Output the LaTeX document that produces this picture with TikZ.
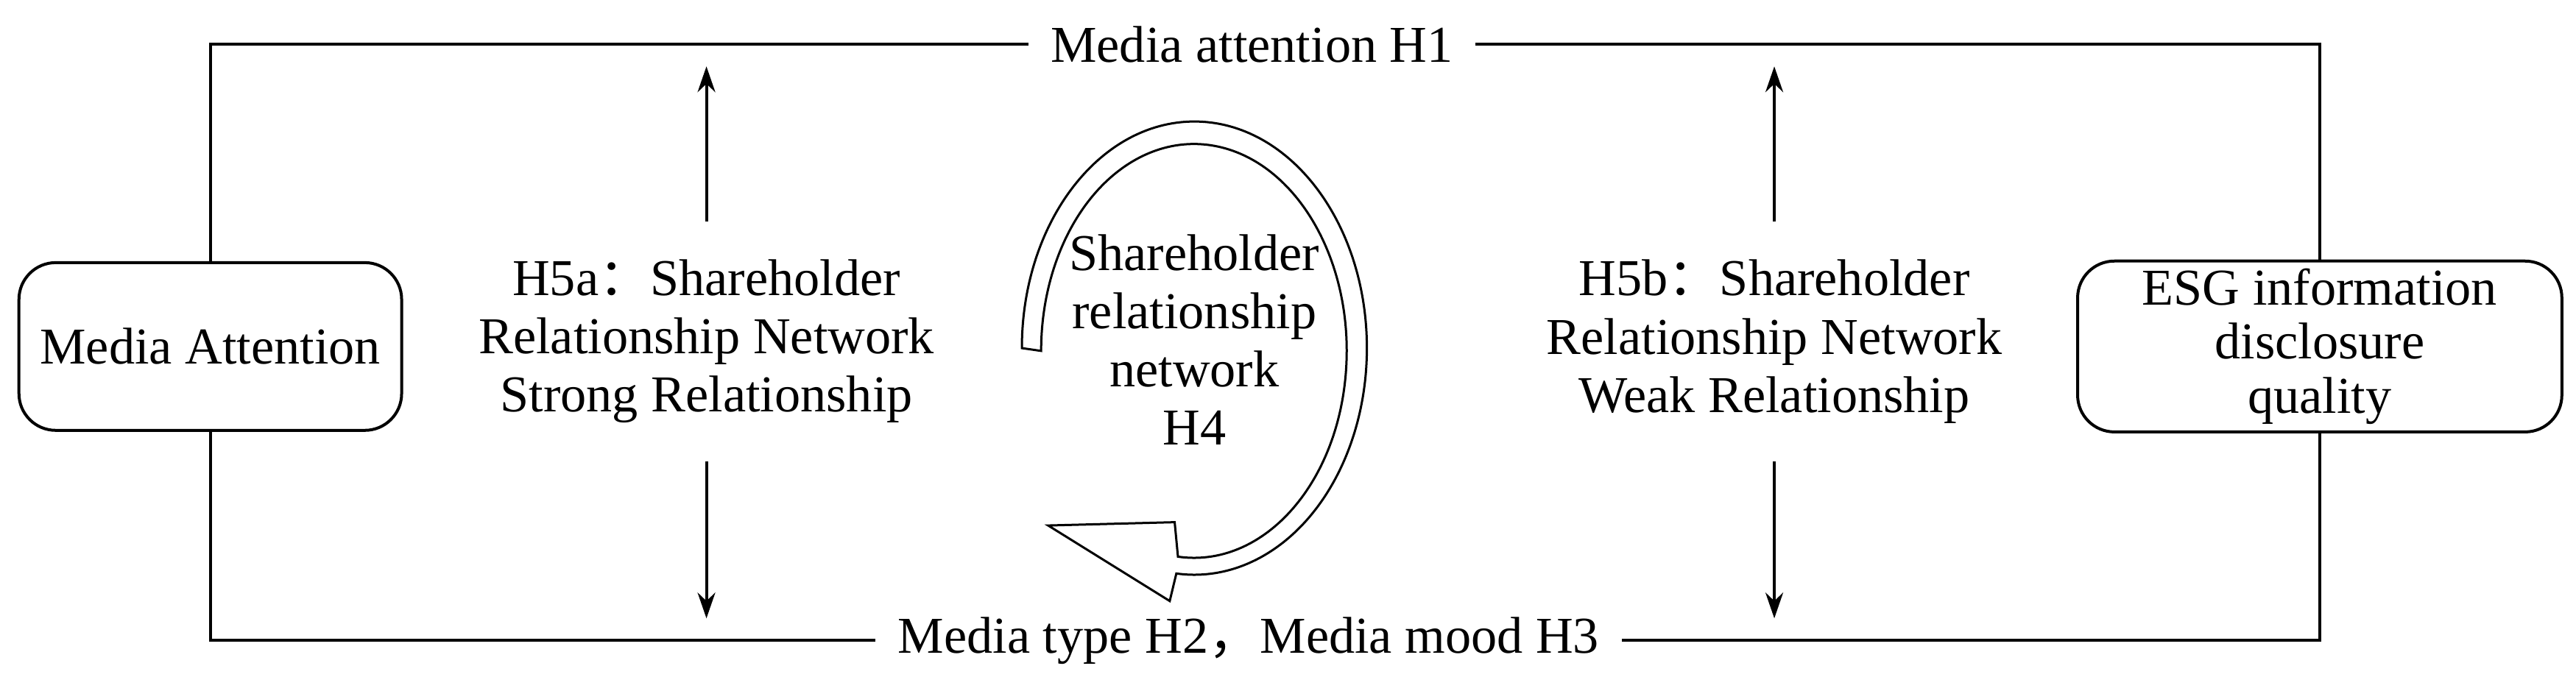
\documentclass[tikz,border=0pt]{standalone}
\usepackage{fontspec}
\setmainfont{Liberation Serif}
\newfontfamily\cjk{Noto Sans CJK SC}
\usetikzlibrary{positioning}
\usetikzlibrary{calc}
\usetikzlibrary{arrows.meta}

\tikzset{
    box/.style={draw, line width=.4mm, rounded corners=5mm, align=center,
        minimum height=2.28cm, inner sep=1mm},
    hyp/.style={align=center, inner sep=0pt, outer sep=5.2mm},
    lab/.style={fill=white, inner xsep=3mm, inner ysep=1mm},
    link/.style={line width=.4mm},
    arr/.style={line width=.4mm, -{Stealth[length=3.5mm, width=2.4mm]}, shorten >=3mm}
}

\begin{document}
\begin{tikzpicture}[x=0.02232cm, y=-0.02232cm, font=\fontsize{20}{22.5}\selectfont]

    \useasboundingbox (0, 0) rectangle (1568, 420.4);

    % Boxes
    \node (media_box) at (128, 211)[box, minimum width=5.2cm] {Media Attention};
    \node (esg_box) at (1412, 211)[box, minimum width=6.58cm, font=\fontsize{20}{21}\selectfont] {ESG information\\disclosure\\quality};

    % Outer loop labels
    \node (h1_label) at (762, 27)[lab] {Media attention H1};
    \node (h23_label) at (760, 390)[lab] {Media type H2{\cjk ，}Media mood H3};

    \coordinate (tl) at (media_box.north |- h1_label);
    \coordinate (tr) at (esg_box.north |- h1_label);
    \coordinate (bl) at (media_box.south |- h23_label);
    \coordinate (br) at (esg_box.south |- h23_label);

    \draw[link] (media_box.north) -- (tl) -- (h1_label.west);
    \draw[link] (h1_label.east) -- (tr) -- (esg_box.north);
    \draw[link] (media_box.south) -- (bl) -- (h23_label.west);
    \draw[link] (h23_label.east) -- (br) -- (esg_box.south);

    % Moderators
    \node (h5a) at (430, 208)[hyp] {H5a{\cjk ：}Shareholder\\Relationship Network\\Strong Relationship};
    \node (h5b) at (1080, 208)[hyp] {H5b{\cjk ：}Shareholder\\Relationship Network\\Weak Relationship};

    \draw[arr] (h5a.north) -- (h5a.north |- h1_label);
    \draw[arr] (h5a.south) -- (h5a.south |- h23_label);
    \draw[arr] (h5b.north) -- (h5b.north |- h1_label);
    \draw[arr] (h5b.south) -- (h5b.south |- h23_label);

    % Circular arrow
    \filldraw[line width=.3mm, fill=white] (622, 212)
        arc[start angle=180, end angle=456, x radius=105, y radius=138]
        -- (712, 366) -- (638, 320) -- (715, 318) -- (717, 339)
        arc[start angle=456, end angle=180, x radius=93, y radius=126]
        -- cycle;
    \node (h4) at (727, 207)[align=center] {Shareholder\\relationship\\network\\H4};

\end{tikzpicture}
\end{document}
